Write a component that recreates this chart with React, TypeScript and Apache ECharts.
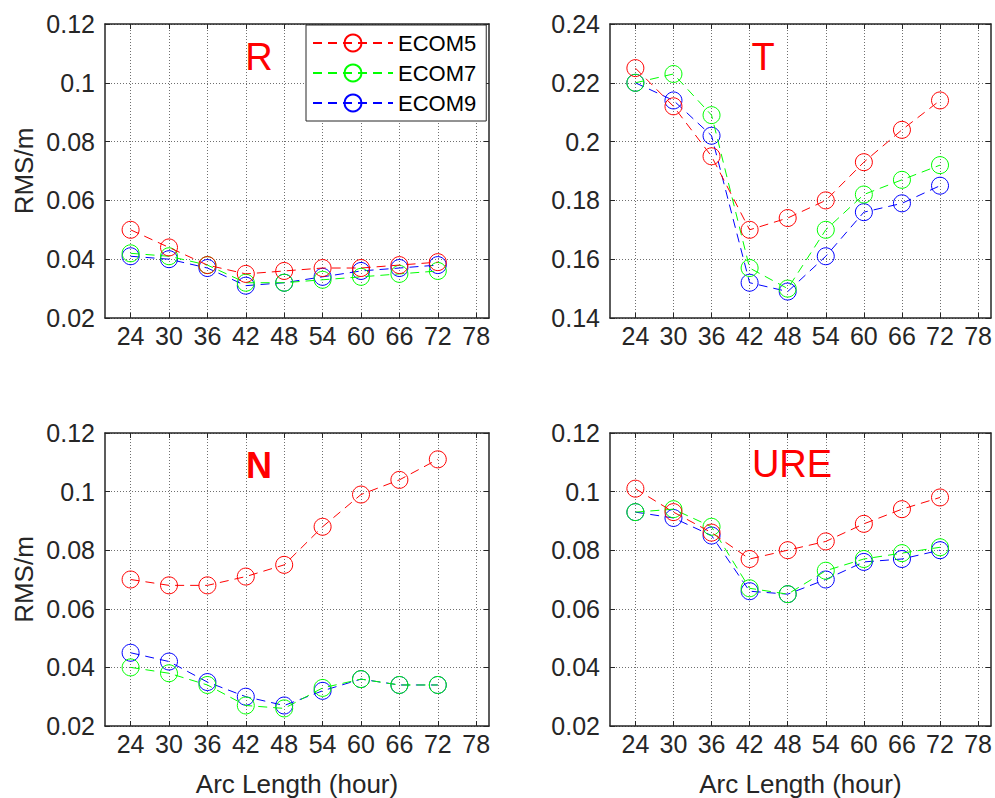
import React, { useEffect, useRef } from "react";
import * as echarts from "echarts";

const arcHours = [24, 30, 36, 42, 48, 54, 60, 66, 72];
const xTickValues = [24, 30, 36, 42, 48, 54, 60, 66, 72, 78];
const seriesNames = ["ECOM5", "ECOM7", "ECOM9"];
const seriesColors = ["#ff0000", "#00ff00", "#0000ff"];

const rEcom5 = [0.05, 0.044, 0.038, 0.035, 0.036, 0.037, 0.037, 0.038, 0.039];
const rEcom7 = [0.042, 0.041, 0.038, 0.032, 0.032, 0.033, 0.034, 0.035, 0.036];
const rEcom9 = [0.041, 0.04, 0.037, 0.031, 0.032, 0.034, 0.036, 0.037, 0.038];

const tEcom5 = [0.225, 0.212, 0.195, 0.17, 0.174, 0.18, 0.193, 0.204, 0.214];
const tEcom7 = [0.22, 0.223, 0.209, 0.157, 0.15, 0.17, 0.182, 0.187, 0.192];
const tEcom9 = [0.22, 0.214, 0.202, 0.152, 0.149, 0.161, 0.176, 0.179, 0.185];

const nEcom5 = [0.07, 0.068, 0.068, 0.071, 0.075, 0.088, 0.099, 0.104, 0.111];
const nEcom7 = [0.04, 0.038, 0.034, 0.027, 0.026, 0.033, 0.036, 0.034, 0.034];
const nEcom9 = [0.045, 0.042, 0.035, 0.03, 0.027, 0.032, 0.036, 0.034, 0.034];

const ureEcom5 = [0.101, 0.093, 0.086, 0.077, 0.08, 0.083, 0.089, 0.094, 0.098];
const ureEcom7 = [0.093, 0.094, 0.088, 0.067, 0.065, 0.073, 0.077, 0.079, 0.081];
const ureEcom9 = [0.093, 0.091, 0.085, 0.066, 0.065, 0.07, 0.076, 0.077, 0.08];

const panelTitles = ["R", "T", "N", "URE"];
const panelYMin = [0.02, 0.14, 0.02, 0.02];
const panelYMax = [0.12, 0.24, 0.12, 0.12];
const panelData = [
  [rEcom5, rEcom7, rEcom9],
  [tEcom5, tEcom7, tEcom9],
  [nEcom5, nEcom7, nEcom9],
  [ureEcom5, ureEcom7, ureEcom9],
];

const FONT = "'Liberation Sans', Arial, Helvetica, sans-serif";
const AX = "#262626";

const layout = [
  { left: 105, top: 24, width: 384, height: 294, titleX: 259, titleY: 57, bold: false },
  { left: 610, top: 24, width: 384, height: 294, titleX: 763, titleY: 57, bold: false },
  { left: 105, top: 433, width: 384, height: 293, titleX: 259, titleY: 465, bold: true },
  { left: 610, top: 433, width: 384, height: 293, titleX: 792, titleY: 464, bold: false },
];

export default function App() {
  const ref = useRef<HTMLDivElement>(null);
  useEffect(() => {
    if (!ref.current) return;
    const chart = echarts.init(ref.current, null, { renderer: "svg" });
    const grids: any[] = [];
    const xAxes: any[] = [];
    const yAxes: any[] = [];
    const series: any[] = [];
    const graphics: any[] = [];
    layout.forEach((g, i) => {
      grids.push({ left: g.left, top: g.top, width: g.width, height: g.height, containLabel: false });
      const isBottom = i >= 2;
      const isLeft = i % 2 === 0;
      xAxes.push({
        type: "value",
        gridIndex: i,
        min: 20,
        max: 80,
        position: "bottom",
        axisLine: { show: true, onZero: false, lineStyle: { color: AX, width: 1.5 } },
        axisTick: { show: true, inside: true, length: 5, customValues: xTickValues, lineStyle: { color: AX } },
        axisLabel: { customValues: xTickValues, fontSize: 25, color: AX, margin: 5, fontFamily: FONT },
        splitLine: { show: true, lineStyle: { type: [1, 2], color: "#6f6f6f", width: 1 } },
        name: isBottom ? "Arc Length (hour)" : "",
        nameLocation: "middle",
        nameGap: 45,
        nameTextStyle: { fontSize: 26, color: AX, fontFamily: FONT },
      });
      xAxes.push({
        type: "value",
        gridIndex: i,
        min: 20,
        max: 80,
        position: "top",
        axisLine: { show: true, onZero: false, lineStyle: { color: AX, width: 1.5 } },
        axisTick: { show: true, inside: true, length: 5, customValues: xTickValues, lineStyle: { color: AX } },
        axisLabel: { show: false },
        splitLine: { show: false },
      });
      yAxes.push({
        type: "value",
        gridIndex: i,
        min: panelYMin[i],
        max: panelYMax[i],
        interval: 0.02,
        position: "left",
        axisLine: { show: true, onZero: false, lineStyle: { color: AX, width: 1.5 } },
        axisTick: { show: true, inside: true, length: 5, lineStyle: { color: AX } },
        axisLabel: {
          fontSize: 25,
          color: AX,
          margin: 10,
          fontFamily: FONT,
          formatter: (v: number) => String(parseFloat(v.toFixed(2))),
        },
        splitLine: { show: true, lineStyle: { type: [1, 2], color: "#6f6f6f", width: 1 } },
        name: isLeft ? "RMS/m" : "",
        nameLocation: "middle",
        nameGap: 68,
        nameRotate: 90,
        nameTextStyle: { fontSize: 26, color: AX, fontFamily: FONT },
      });
      yAxes.push({
        type: "value",
        gridIndex: i,
        min: panelYMin[i],
        max: panelYMax[i],
        interval: 0.02,
        position: "right",
        axisLine: { show: true, onZero: false, lineStyle: { color: AX, width: 1.5 } },
        axisTick: { show: true, inside: true, length: 5, lineStyle: { color: AX } },
        axisLabel: { show: false },
        splitLine: { show: false },
      });
      panelData[i].forEach((vals, k) => {
        series.push({
          type: "line",
          name: seriesNames[k],
          xAxisIndex: i * 2,
          yAxisIndex: i * 2,
          data: arcHours.map((h, j) => [h, vals[j]]),
          symbol: "circle",
          symbolSize: 17,
          showSymbol: true,
          color: seriesColors[k],
          itemStyle: { color: "rgba(255,255,255,0)", borderColor: seriesColors[k], borderWidth: 1 },
          lineStyle: { color: seriesColors[k], width: 1, type: [9, 6] },
          z: 3 - k + 2,
        });
      });
      graphics.push({
        type: "text",
        x: g.titleX,
        y: g.titleY,
        z: 10,
        style: {
          text: panelTitles[i],
          fill: "#ff0000",
          fontSize: g.bold ? 36 : 38,
          fontWeight: g.bold ? "bold" : "normal",
          fontFamily: FONT,
          textAlign: "center",
          textVerticalAlign: "middle",
        },
      });
    });

    chart.setOption({
      animation: false,
      backgroundColor: "#ffffff",
      grid: grids,
      xAxis: xAxes,
      yAxis: yAxes,
      series,
      graphic: graphics,
      legend: {
        data: seriesNames,
        orient: "vertical",
        left: 306,
        top: 25,
        padding: [7, 10, 7, 6],
        itemGap: 8,
        itemWidth: 80,
        itemHeight: 21,
        backgroundColor: "#ffffff",
        borderColor: AX,
        borderWidth: 1,
        borderRadius: 0,
        textStyle: { fontSize: 22, color: "#000", fontFamily: FONT },
        z: 20,
      },
    });
    return () => chart.dispose();
  }, []);
  return (
    <div
      ref={ref}
      style={{ position: "fixed", left: 0, top: 0, width: 995, height: 798, background: "#fff" }}
    />
  );
}
